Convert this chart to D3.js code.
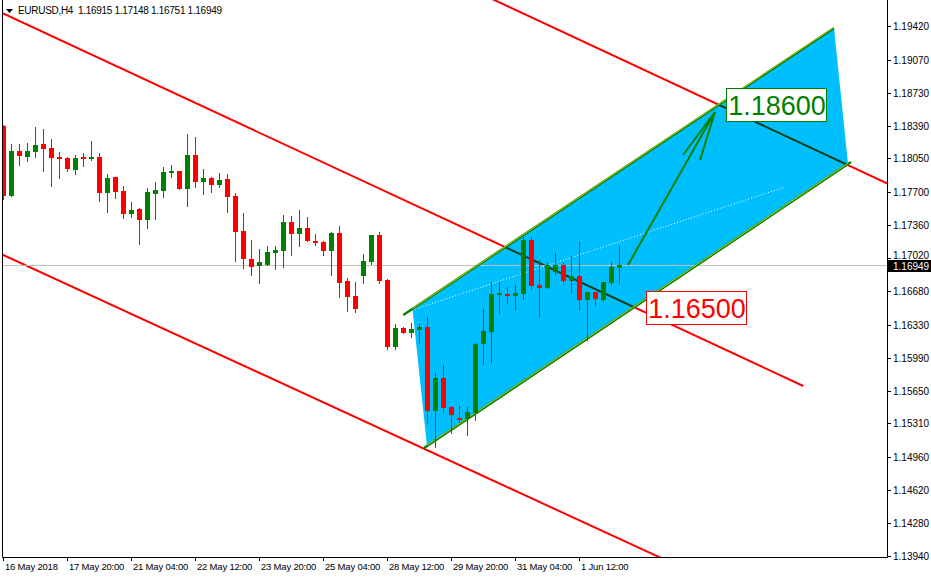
<!DOCTYPE html>
<html>
<head>
<meta charset="utf-8">
<script src="https://cdn.jsdelivr.net/npm/d3@7"></script>
<style>
  body { margin: 0; background: #fff; }
  text { font-family: "Liberation Sans", Arial, sans-serif; }
</style>
</head>
<body>
<div id="chart"></div>
<script>
// EURUSD H4 candles (bar 0 = 16 May 2018 12:00)
var opens = [1.18386,1.17662,1.18128,1.18066,1.18117,1.18200,1.18159,1.18066,1.18055,1.17931,
  1.18066,1.18045,1.18066,1.17693,1.17859,1.17714,1.17476,1.17528,1.17414,1.17683,
  1.17714,1.17910,1.17921,1.17735,1.18086,1.17807,1.17848,1.17776,1.17838,1.17662,
  1.17300,1.17011,1.16938,1.16949,1.17073,1.17094,1.17393,1.17269,1.17331,1.17197,
  1.17187,1.17094,1.17280,1.16783,1.16628,1.16835,1.16980,1.17259,1.16794,1.16101,
  1.16297,1.16246,1.16277,1.16308,1.15439,1.15780,1.15481,1.15367,1.15356,1.15418,
  1.16132,1.16256,1.16639,1.16649,1.16628,1.16649,1.17207,1.16742,1.16711,1.16876,
  1.16949,1.16783,1.16835,1.16587,1.16670,1.16587,1.16763,1.16915];
var highs = [1.18396,1.18200,1.18200,1.18210,1.18376,1.18355,1.18252,1.18117,1.18066,1.18086,
  1.18107,1.18231,1.18107,1.17890,1.17859,1.17766,1.17600,1.17538,1.17745,1.17807,
  1.17962,1.17983,1.17921,1.18303,1.18272,1.17941,1.17859,1.17900,1.17890,1.17693,
  1.17486,1.17207,1.17114,1.17145,1.17145,1.17466,1.17455,1.17517,1.17445,1.17269,
  1.17197,1.17290,1.17352,1.16814,1.16773,1.17063,1.17259,1.17290,1.16804,1.16339,
  1.16308,1.16349,1.16339,1.16411,1.15832,1.15915,1.15491,1.15501,1.15481,1.16142,
  1.16494,1.16773,1.16773,1.16721,1.16742,1.17238,1.17238,1.17000,1.16980,1.17073,
  1.16980,1.17042,1.17197,1.16670,1.16670,1.16773,1.16980,1.17148];
var lows = [1.17631,1.17662,1.17983,1.18024,1.18066,1.17921,1.17766,1.17848,1.17921,1.17890,
  1.17972,1.18034,1.17611,1.17497,1.17642,1.17435,1.17445,1.17166,1.17331,1.17424,
  1.17652,1.17859,1.17735,1.17559,1.17755,1.17683,1.17704,1.17755,1.17497,1.16990,
  1.16918,1.16845,1.16763,1.16949,1.16907,1.16928,1.17052,1.17145,1.17197,1.17156,
  1.17052,1.16845,1.16618,1.16473,1.16463,1.16763,1.16959,1.16763,1.16080,1.16080,
  1.16246,1.16204,1.16142,1.15315,1.15067,1.15418,1.15212,1.15325,1.15191,1.15346,
  1.15925,1.15946,1.16452,1.16556,1.16483,1.16597,1.16701,1.16411,1.16711,1.16856,
  1.16763,1.16659,1.16483,1.16173,1.16535,1.16577,1.16752,1.16751];
var closes = [1.17662,1.18128,1.18076,1.18128,1.18190,1.18148,1.18055,1.18045,1.17941,1.18055,
  1.18045,1.18066,1.17693,1.17848,1.17704,1.17476,1.17517,1.17414,1.17704,1.17724,
  1.17910,1.17921,1.17735,1.18086,1.17807,1.17848,1.17776,1.17828,1.17652,1.17290,
  1.17011,1.16928,1.16980,1.17083,1.17104,1.17393,1.17269,1.17331,1.17197,1.17176,
  1.17094,1.17280,1.16763,1.16618,1.16494,1.16990,1.17259,1.16783,1.16101,1.16297,
  1.16246,1.16287,1.16308,1.15439,1.15780,1.15470,1.15398,1.15346,1.15429,1.16132,
  1.16266,1.16649,1.16659,1.16628,1.16659,1.17207,1.16732,1.16711,1.16949,1.16949,
  1.16783,1.16835,1.16587,1.16670,1.16597,1.16773,1.16928,1.16949];

// axis labels
var timeLabels = ["16 May 2018","17 May 20:00","21 May 04:00","22 May 12:00","23 May 20:00",
  "25 May 04:00","28 May 12:00","29 May 20:00","31 May 04:00","1 Jun 12:00"];
var timeLabelBars = [0, 8, 16, 24, 32, 40, 48, 56, 64, 72];
var priceLabels = ["1.19420","1.19070","1.18730","1.18390","1.18050","1.17700","1.17360","1.17020",
  "1.16680","1.16330","1.15990","1.15650","1.15310","1.14960","1.14620","1.14280","1.13940"];
var header = "EURUSD,H4  1.16915 1.17148 1.16751 1.16949";
var bid = 1.16949;

// drawing objects, as [bar index, price]
var redLines = [
  [[-1.04, 1.19589], [100.0, 1.15698]],
  [[58.34, 1.19806], [112.09, 1.17730]],
  [[-1.04, 1.17092], [83.34, 1.13877]]
];
var channel = [[51.15, 1.16491], [103.84, 1.19399], [105.59, 1.17993], [52.96, 1.15077]];
var greenLines = [
  [[50.0, 1.16432], [103.84, 1.19399]],
  [[52.59, 1.15056], [105.96, 1.18014]]
];
var dottedLine = [[51.09, 1.16483], [97.71, 1.17755]];
var arrowLines = [
  [[78.09, 1.16949], [88.96, 1.18531]],
  [[84.96, 1.18086], [88.96, 1.18531]],
  [[87.09, 1.18034], [88.96, 1.18531]]
];
var priceTags = [
  { text: "1.16500", bar: 80.34, price: 1.16500, color: "#ff0000" },
  { text: "1.18600", bar: 90.34, price: 1.18600, color: "#008000" }
];

// SETUP
var width = 931, height = 578;
var plotL = 3, plotR = 887, plotB = 557;

var svg = d3.select("#chart").append("svg")
  .attr("width", width)
  .attr("height", height);

var x = d3.scaleLinear().domain([0, 77]).range([3.3, 619.3]);
var y = d3.scaleLinear().domain([1.1394, 1.1942]).range([556, 26]);

var line = d3.line().x(function(d) { return x(d[0]); }).y(function(d) { return y(d[1]); });

var defs = svg.append("defs");
defs.append("clipPath").attr("id", "plotclip")
  .append("rect").attr("x", plotL).attr("y", 0).attr("width", plotR - plotL).attr("height", plotB);
defs.append("clipPath").attr("id", "chanclip")
  .append("path").attr("d", line(channel) + "Z");

var plot = svg.append("g").attr("clip-path", "url(#plotclip)");

// red trend lines
plot.selectAll(".red").data(redLines).enter().append("path")
  .attr("d", line).attr("stroke", "#ff0000").attr("stroke-width", 2).attr("fill", "none");

// filled channel
plot.append("path").attr("d", line(channel) + "Z").attr("fill", "#00bfff");

// red lines look dark where they cross the fill
plot.append("g").attr("clip-path", "url(#chanclip)")
  .selectAll("path").data(redLines).enter().append("path")
  .attr("d", line).attr("stroke", "#0d3a12").attr("stroke-width", 2).attr("fill", "none");

plot.append("path").attr("d", line(dottedLine))
  .attr("stroke", "#fff").attr("stroke-width", 1).attr("stroke-dasharray", "1,2").attr("fill", "none");

// bid line
plot.append("line")
  .attr("x1", plotL).attr("x2", plotR)
  .attr("y1", Math.round(y(bid)) + 0.5).attr("y2", Math.round(y(bid)) + 0.5)
  .attr("stroke", "#c0c0c0");

// channel borders
plot.selectAll(".gl").data(greenLines).enter().append("path")
  .attr("d", line).attr("stroke", "#008000").attr("stroke-width", 2.4).attr("fill", "none");
plot.selectAll(".yl").data([[channel[0], channel[1]], [channel[3], channel[2]]]).enter().append("path")
  .attr("d", line).attr("transform", "translate(0,-0.7)")
  .attr("stroke", "#ffd700").attr("stroke-width", 0.8).attr("fill", "none");

// candles
var bars = d3.range(opens.length).map(function(i) {
  return { i: i, o: opens[i], h: highs[i], l: lows[i], c: closes[i] };
});
var candle = plot.selectAll(".candle").data(bars).enter().append("g");
candle.append("rect")
  .attr("x", function(d) { return Math.round(x(d.i)); })
  .attr("y", function(d) { return Math.round(y(d.h)); })
  .attr("width", 1)
  .attr("height", function(d) { return Math.round(y(d.l)) - Math.round(y(d.h)) + 1; })
  .attr("fill", function(d) { return d.c >= d.o ? "#008000" : "#ff0000"; });
candle.append("rect")
  .attr("x", function(d) { return Math.round(x(d.i)) - 2; })
  .attr("y", function(d) { return Math.round(y(Math.max(d.o, d.c))); })
  .attr("width", 5)
  .attr("height", function(d) {
    return Math.max(2, Math.round(y(Math.min(d.o, d.c))) - Math.round(y(Math.max(d.o, d.c))));
  })
  .attr("fill", function(d) { return d.c >= d.o ? "#008000" : "#ff0000"; });

// target arrow
plot.selectAll(".arrow").data(arrowLines).enter().append("path")
  .attr("d", line).attr("stroke", "#008000").attr("stroke-width", 2).attr("fill", "none");

// price tags
var tag = plot.selectAll(".tag").data(priceTags).enter().append("g");
tag.append("rect")
  .attr("x", function(d) { return Math.round(x(d.bar)) + 0.5; })
  .attr("y", function(d) { return Math.round(y(d.price)) - 16.5; })
  .attr("width", 100).attr("height", 33)
  .attr("fill", "#fff")
  .attr("stroke", function(d) { return d.color; });
tag.append("text")
  .attr("x", function(d) { return Math.round(x(d.bar)) + 51; })
  .attr("y", function(d) { return y(d.price) + 9.8; })
  .attr("text-anchor", "middle")
  .attr("font-size", "27px")
  .attr("fill", function(d) { return d.color; })
  .text(function(d) { return d.text; });

// frame
svg.append("path")
  .attr("d", "M" + (plotL - 0.5) + ",0V" + (plotB + 0.5) + "H" + (plotR + 0.5) + "V0")
  .attr("stroke", "#000").attr("fill", "none");

// price axis (1.17020 nudged up a little so the bid tag doesn't hide it)
var py = svg.append("g").selectAll("g").data(priceLabels).enter().append("g")
  .attr("transform", function(d) { return "translate(0," + Math.round(y(+d)) + ")"; });
py.append("line").attr("x1", plotR).attr("x2", plotR + 4).attr("y1", 0.5).attr("y2", 0.5).attr("stroke", "#000");
py.append("text").attr("x", plotR + 6).attr("y", function(d) { return d === "1.17020" ? 1 : 4; })
  .attr("font-size", "10px").text(function(d) { return d; });

// bid tag
var by = Math.round(y(bid));
svg.append("rect").attr("x", plotR + 1).attr("y", by - 5).attr("width", width - plotR - 1).attr("height", 12).attr("fill", "#000");
svg.append("text").attr("x", plotR + 6).attr("y", by + 5).attr("font-size", "10px").attr("fill", "#fff").text(bid.toFixed(5));

// time axis
var tx = svg.append("g").selectAll("g").data(timeLabels).enter().append("g")
  .attr("transform", function(d, k) { return "translate(" + Math.round(x(timeLabelBars[k])) + ",0)"; });
tx.append("line").attr("x1", 0.5).attr("x2", 0.5).attr("y1", plotB).attr("y2", plotB + 4).attr("stroke", "#000");
tx.append("text").attr("x", 2).attr("y", plotB + 13).attr("font-size", "9.5px")
  .attr("letter-spacing", "-0.2px").text(function(d) { return d; });

// header
svg.append("path").attr("d", "M6,9H13L9.5,13Z").attr("fill", "#000");
svg.append("text").attr("x", 18).attr("y", 14).attr("font-size", "10px")
  .attr("letter-spacing", "-0.3px").style("white-space", "pre").attr("xml:space", "preserve").text(header);
</script>
</body>
</html>
